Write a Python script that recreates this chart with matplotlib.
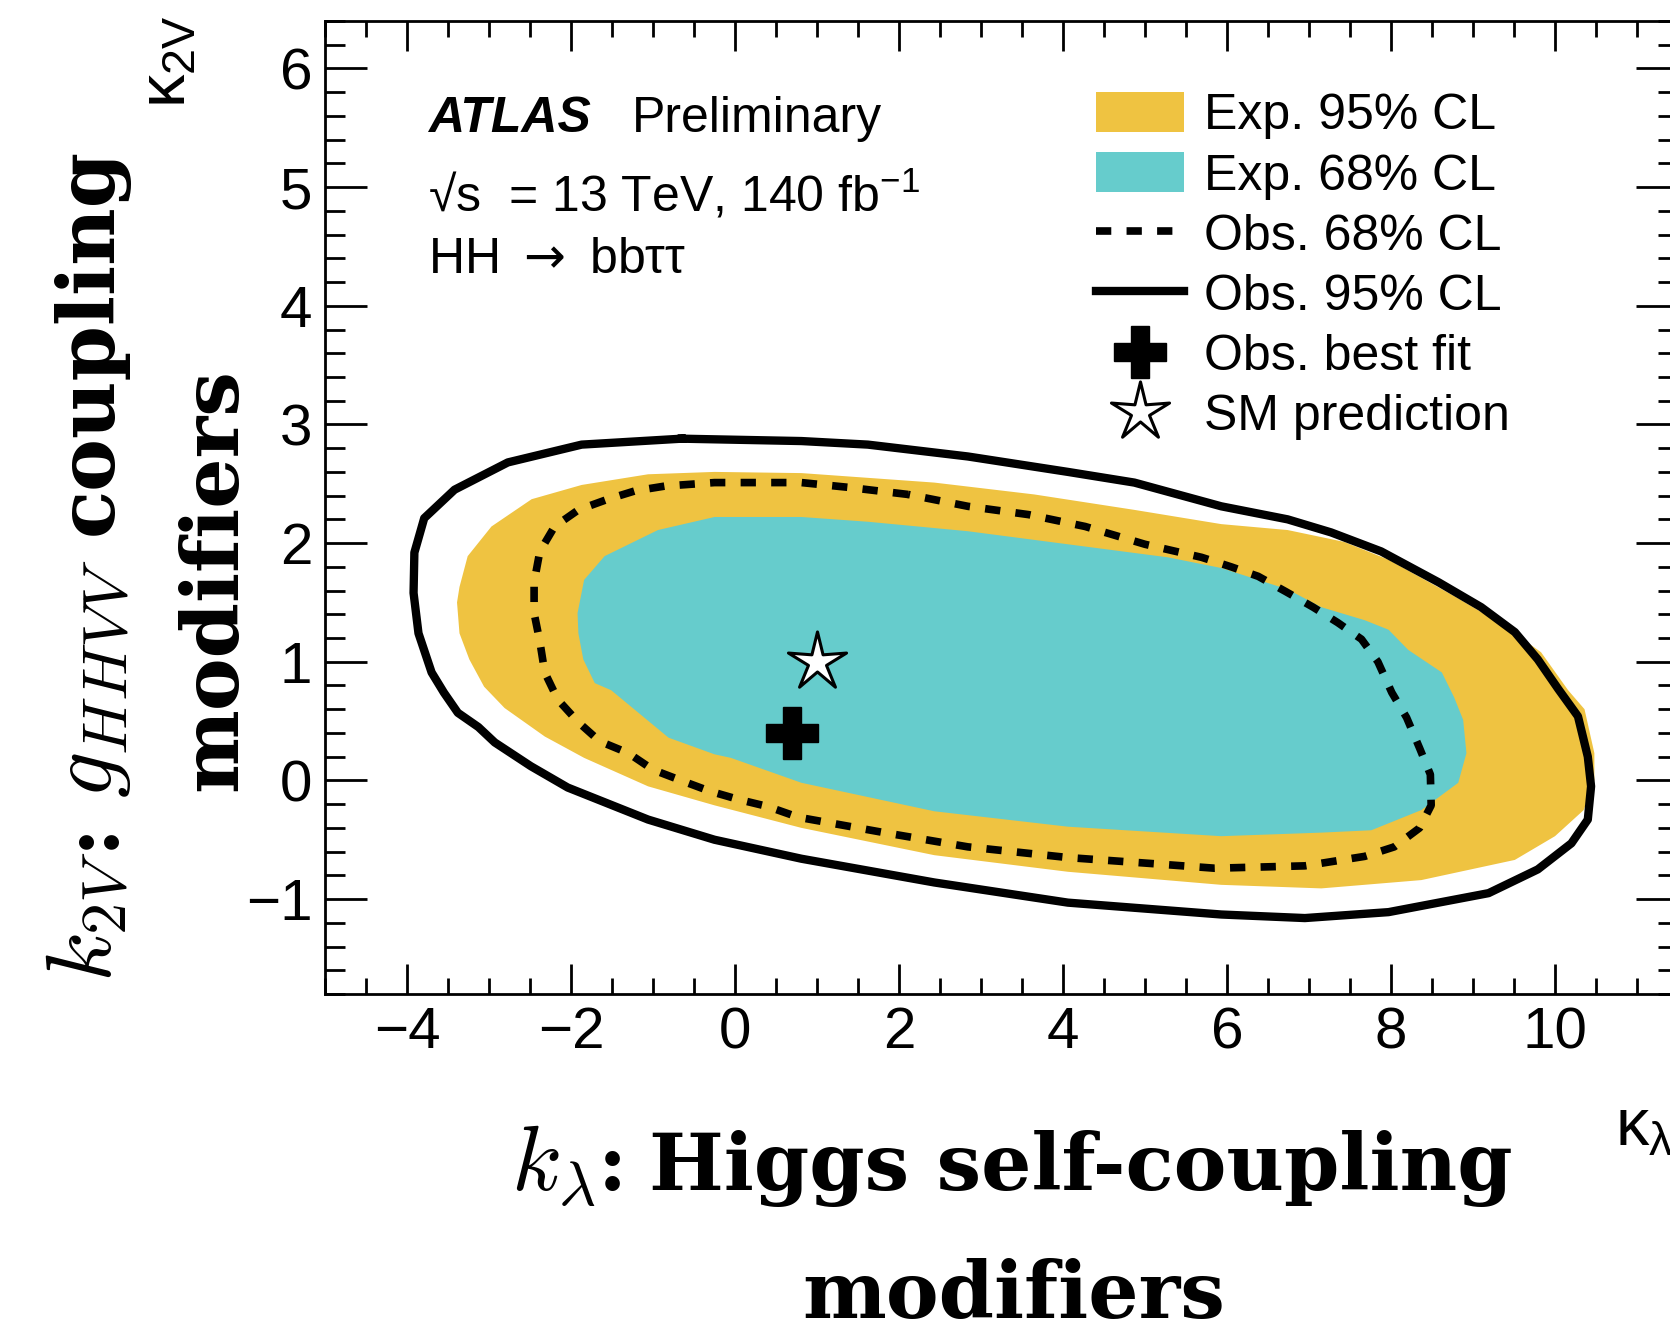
import numpy as np
import matplotlib
matplotlib.use("Agg")
import matplotlib.pyplot as plt
from matplotlib.patches import Patch
from matplotlib.lines import Line2D
from matplotlib.path import Path
from matplotlib.ticker import MultipleLocator

# contours: x = kappa_lambda, y = kappa_2V
obs95_x = [-0.65, -1.87, -2.77, -3.42, -3.79, -3.91, -3.92, -3.86, -3.70, -3.55, -3.38, -3.13,
           -2.93, -2.49, -2.04, -1.06, -0.25, 0.81, 2.43, 4.06, 5.93, 6.95, 7.97, 9.19, 9.79,
           10.20, 10.40, 10.44, 10.40, 10.28, 10.04, 9.79, 9.51, 9.10, 8.58, 7.88, 7.27, 6.74,
           5.93, 4.87, 4.06, 2.84, 1.62, 0.81]
obs95_y = [2.88, 2.83, 2.68, 2.45, 2.21, 1.92, 1.58, 1.24, 0.91, 0.74, 0.57, 0.45,
           0.32, 0.12, -0.06, -0.33, -0.50, -0.66, -0.86, -1.03, -1.13, -1.16, -1.11, -0.95, -0.75,
           -0.53, -0.33, -0.05, 0.20, 0.54, 0.77, 1.02, 1.25, 1.46, 1.67, 1.93, 2.09, 2.20,
           2.31, 2.51, 2.60, 2.73, 2.83, 2.86]

exp95_x = [-0.25, -1.06, -1.87, -2.48, -2.97, -3.26, -3.36, -3.39, -3.36, -3.24, -3.06, -2.81,
           -2.32, -1.84, -1.06, -0.25, 0.81, 2.43, 4.06, 5.93, 7.15, 8.37, 9.51, 10.00, 10.35,
           10.48, 10.48, 10.36, 10.16, 9.83, 9.39, 8.78, 7.97, 7.43, 6.74, 5.93, 4.87, 3.65,
           2.43, 0.81]
exp95_y = [2.60, 2.58, 2.49, 2.37, 2.14, 1.89, 1.63, 1.50, 1.24, 1.02, 0.79, 0.61,
           0.37, 0.19, -0.05, -0.21, -0.40, -0.63, -0.77, -0.88, -0.91, -0.84, -0.67, -0.47, -0.25,
           0.00, 0.23, 0.60, 0.76, 1.08, 1.30, 1.55, 1.86, 2.01, 2.11, 2.16, 2.28, 2.41,
           2.51, 2.59]

exp68_x = [-0.25, -0.94, -1.59, -1.84, -1.92, -1.91, -1.85, -1.71, -1.51, -0.81, -0.25, -0.05,
           0.81, 2.43, 4.06, 5.93, 7.15, 7.76, 8.37, 8.82, 8.92, 8.88, 8.77, 8.62, 8.21, 7.97,
           7.68, 7.15, 6.74, 5.93, 5.28, 4.06, 2.84, 1.62, 0.81]
exp68_y = [2.22, 2.11, 1.89, 1.69, 1.41, 1.24, 1.02, 0.82, 0.76, 0.36, 0.22, 0.19,
           -0.02, -0.26, -0.39, -0.47, -0.44, -0.42, -0.25, -0.02, 0.23, 0.51, 0.70, 0.91, 1.10, 1.27,
           1.35, 1.46, 1.61, 1.79, 1.88, 1.99, 2.10, 2.18, 2.22]

obs68_x = [2.11, 1.38, 0.81, -0.25, -0.86, -1.22, -1.55, -1.91, -2.20, -2.38, -2.45, -2.45,
           -2.38, -2.32, -2.16, -1.91, -1.65, -1.30, -1.00, -0.66, -0.31, 0.04, 0.40, 0.77,
           1.82, 2.84, 4.06, 5.07, 5.85, 6.95, 7.68, 8.04, 8.35, 8.49, 8.48, 8.35, 8.19, 8.01,
           7.84, 7.64, 7.35, 7.05, 6.72, 6.38, 6.05, 5.69, 5.00, 4.27, 3.58, 2.84]
obs68_y = [2.41, 2.47, 2.51, 2.51, 2.48, 2.44, 2.37, 2.28, 2.14, 1.93, 1.67, 1.41,
           1.17, 0.91, 0.68, 0.49, 0.33, 0.23, 0.09, 0.00, -0.09, -0.16, -0.22, -0.31,
           -0.44, -0.56, -0.65, -0.70, -0.74, -0.72, -0.64, -0.56, -0.40, -0.21, 0.05, 0.27, 0.53, 0.74,
           1.00, 1.19, 1.33, 1.46, 1.59, 1.72, 1.80, 1.88, 1.99, 2.14, 2.24, 2.31]

best_fit_x, best_fit_y = [0.69], [0.40]
sm_x, sm_y = [1.0], [1.0]

labels = ["Exp. 95% CL", "Exp. 68% CL", "Obs. 68% CL", "Obs. 95% CL",
          "Obs. best fit", "SM prediction"]

yellow = "#efc341"
cyan = "#66cccc"

plt.rcParams["font.family"] = ["Liberation Sans", "DejaVu Sans"]
plt.rcParams["mathtext.fontset"] = "custom"
plt.rcParams["mathtext.rm"] = "Liberation Sans"
plt.rcParams["mathtext.it"] = "Liberation Sans:italic"
plt.rcParams["mathtext.bf"] = "Liberation Sans:bold"

W, H = 1670, 1328
fig = plt.figure(figsize=(W / 100, H / 100), dpi=100)
ax = fig.add_axes([325 / W, 1 - 994 / H, (1678 - 325) / W, (994 - 21) / H])


def closed(a):
    return np.r_[a, a[:1]]


ax.fill(exp95_x, exp95_y, color=yellow, lw=0, zorder=1)
ax.fill(exp68_x, exp68_y, color=cyan, lw=0, zorder=2)
ax.plot(closed(obs68_x), closed(obs68_y), color="k", lw=5.5, dashes=(2, 2), zorder=3)
ax.plot(closed(obs95_x), closed(obs95_y), color="k", lw=6, solid_joinstyle="round", zorder=3)

star = Path.unit_regular_star(5, 0.31)
ax.plot(best_fit_x, best_fit_y, ls="none", marker="P", ms=37, color="k", zorder=5)
ax.plot(sm_x, sm_y, ls="none", marker=star, ms=44, mfc="w", mec="k", mew=2.2, zorder=5)

ax.set_xlim(-5, 11.5)
ax.set_ylim(-1.8, 6.4)
ax.xaxis.set_major_locator(MultipleLocator(2))
ax.xaxis.set_minor_locator(MultipleLocator(0.5))
ax.yaxis.set_major_locator(MultipleLocator(1))
ax.yaxis.set_minor_locator(MultipleLocator(0.2))
ax.tick_params(which="both", direction="in", top=True, right=True, width=2, labelsize=42)
ax.tick_params(axis="x", which="major", length=21.3, pad=9)
ax.tick_params(axis="x", which="minor", length=11.3)
ax.tick_params(axis="y", which="major", length=29.9, pad=9)
ax.tick_params(axis="y", which="minor", length=14.4)
for s in ax.spines.values():
    s.set_linewidth(2)

# legend
handles = [
    Patch(facecolor=yellow, edgecolor="none"),
    Patch(facecolor=cyan, edgecolor="none"),
    Line2D([], [], color="k", lw=5.5, dashes=(2, 2)),
    Line2D([], [], color="k", lw=6),
    Line2D([], [], ls="none", marker="P", ms=37, color="k"),
    Line2D([], [], ls="none", marker=star, ms=44, mfc="w", mec="k", mew=2.2),
]
ax.legend(handles, labels, loc="upper left", bbox_to_anchor=(1096 / W, 1 - 92 / H),
          bbox_transform=fig.transFigure, frameon=False, fontsize=36,
          handlelength=1.75, handleheight=0.85, handletextpad=0.42,
          labelspacing=0.26, borderpad=0, borderaxespad=0)

# ATLAS text
fig.text(428 / W, 1 - 132 / H, "ATLAS", fontsize=36, fontweight="bold", fontstyle="italic", va="baseline")
fig.text(632 / W, 1 - 132 / H, "Preliminary", fontsize=36, va="baseline")
fig.text(428 / W, 1 - 212 / H, "√s  = 13 TeV, 140 fb$^{\\mathrm{-1}}$", fontsize=36, va="baseline")
fig.text(428 / W, 1 - 273 / H, r"HH $\rightarrow$ bbττ", fontsize=36, va="baseline",
         math_fontfamily="dejavusans")

# ROOT axis titles at the axis ends
fig.text(186 / W, 1 - 15 / H, r"κ$_{\mathrm{2V}}$", fontsize=48, rotation=90,
         rotation_mode="anchor", ha="right", va="baseline")
fig.text(1615 / W, 1 - 1145 / H, r"κ$_{\mathrm{λ}}$", fontsize=48, va="baseline")

# big serif axis labels, math set a bit larger than the bold text
math_kw = dict(fontsize=66, math_fontfamily="cm")
text_kw = dict(fontsize=57, family="DejaVu Serif", fontweight="bold")
renderer = fig.canvas.get_renderer()


def label_line(pieces, centre, base, vertical=False):
    rot = 90 if vertical else 0
    items = []
    for s, kw, gap in pieces:
        t = fig.text(0, 0, s, rotation=rot, rotation_mode="anchor",
                     ha="left", va="baseline", **kw)
        bb = t.get_window_extent(renderer)
        items.append((t, gap, bb.height if vertical else bb.width))
    total = sum(g + w for _, g, w in items)
    pos = centre + total / 2 if vertical else centre - total / 2
    for t, gap, w in items:
        if vertical:
            pos -= gap
            t.set_position((base / W, 1 - pos / H))
            pos -= w
        else:
            pos += gap
            t.set_position((pos / W, 1 - base / H))
            pos += w


label_line([(r"$k_\lambda$", math_kw, 0), (":", text_kw, 2),
            ("Higgs self-coupling", text_kw, 22)], 1012, 1190)
label_line([("modifiers", text_kw, 0)], 1014, 1318)
label_line([(r"$k_{2V}$", math_kw, 0), (":", text_kw, 2), (r"$g_{HHVV}$", math_kw, 22),
            ("coupling", text_kw, 24)], 565, 112, vertical=True)
label_line([("modifiers", text_kw, 0)], 580, 236, vertical=True)

fig.savefig("out.png", dpi=100)
